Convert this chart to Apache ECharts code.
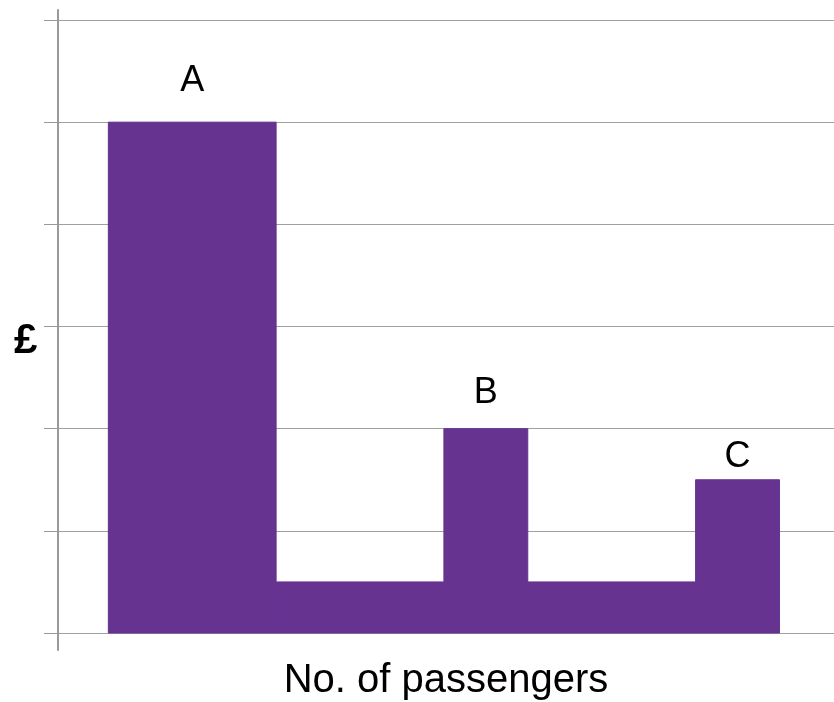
<!DOCTYPE html>
<html>
<head>
<meta charset="utf-8">
<script src="https://cdn.jsdelivr.net/npm/echarts@6/dist/echarts.min.js"></script>
<style>html,body{margin:0;padding:0;background:#fff}#c{width:834px;height:702px}</style>
</head>
<body>
<div id="c"></div>
<script>
// Data: histogram segments (class start, class end, height) and labels
var segStart = [0, 2, 4, 5, 7];
var segEnd   = [2, 4, 5, 7, 8];
var segValue = [5, 0.5, 2, 0.5, 1.5];
var segLabel = ['A', '', 'B', '', 'C'];
var yTicks = [0, 1, 2, 3, 4, 5, 6];

// Style: label gap above bar top (px)
var labelGap = [30, 0, 25, 0, 12];

var FONT = '"Liberation Sans", Arial, sans-serif';
var chart = echarts.init(document.getElementById('c'), null, {renderer: 'canvas'});

var data = segStart.map(function (s, i) {
  return [s, segEnd[i], segValue[i]];
});

chart.setOption({
  animation: false,
  title: {
    text: '£', left: 9, top: 315,
    textStyle: {fontFamily: FONT, fontSize: 42, fontWeight: 'bold', color: '#000'}
  },
  grid: [
    {left: 58, right: 0, top: 20, bottom: 69, containLabel: false, outerBoundsMode: 'none'},
    {left: 58, right: 0, top: 10, bottom: 52, containLabel: false, outerBoundsMode: 'none'}
  ],
  xAxis: [
    {
      type: 'value', gridIndex: 0, min: -0.6, max: 8.65,
      axisLine: {show: false}, axisTick: {show: false}, axisLabel: {show: false}, splitLine: {show: false},
      name: 'No. of passengers', nameLocation: 'middle', nameGap: 28,
      nameTextStyle: {fontFamily: FONT, fontSize: 40, color: '#000'}
    },
    {
      type: 'value', gridIndex: 1, min: 0, max: 1, show: false
    }
  ],
  yAxis: [
    {
      type: 'value', gridIndex: 0, min: yTicks[0], max: yTicks[yTicks.length - 1], interval: 1,
      axisLine: {show: true, onZero: false, lineStyle: {color: '#999', width: 2}},
      axisTick: {show: true, length: 14, lineStyle: {color: '#999', width: 1}},
      axisLabel: {show: false},
      splitLine: {show: true, lineStyle: {color: '#a0a0a0', width: 1}}
    },
    {
      type: 'value', gridIndex: 1, min: 0, max: 1,
      axisLine: {show: true, onZero: false, lineStyle: {color: '#999', width: 2}},
      axisTick: {show: false}, axisLabel: {show: false}, splitLine: {show: false}
    }
  ],
  series: [{
    type: 'custom',
    xAxisIndex: 0, yAxisIndex: 0,
    encode: {x: [0, 1], y: 2},
    data: data,
    renderItem: function (params, api) {
      var x0 = api.value(0), x1 = api.value(1), h = api.value(2);
      var lab = segLabel[params.dataIndex];
      var gap = labelGap[params.dataIndex];
      var p0 = api.coord([x0, h]);
      var p1 = api.coord([x1, 0]);
      var children = [{
        type: 'rect',
        shape: {x: p0[0], y: p0[1], width: p1[0] - p0[0], height: p1[1] - p0[1]},
        style: {fill: '#663390', stroke: '#663390', lineWidth: 1}
      }];
      if (lab) {
        children.push({
          type: 'text',
          style: {
            text: lab, x: (p0[0] + p1[0]) / 2, y: p0[1] - gap + 7,
            textAlign: 'center', textVerticalAlign: 'bottom',
            fontFamily: FONT, fontSize: 36, fill: '#000'
          }
        });
      }
      return {type: 'group', children: children};
    }
  }]
});
</script>
</body>
</html>
